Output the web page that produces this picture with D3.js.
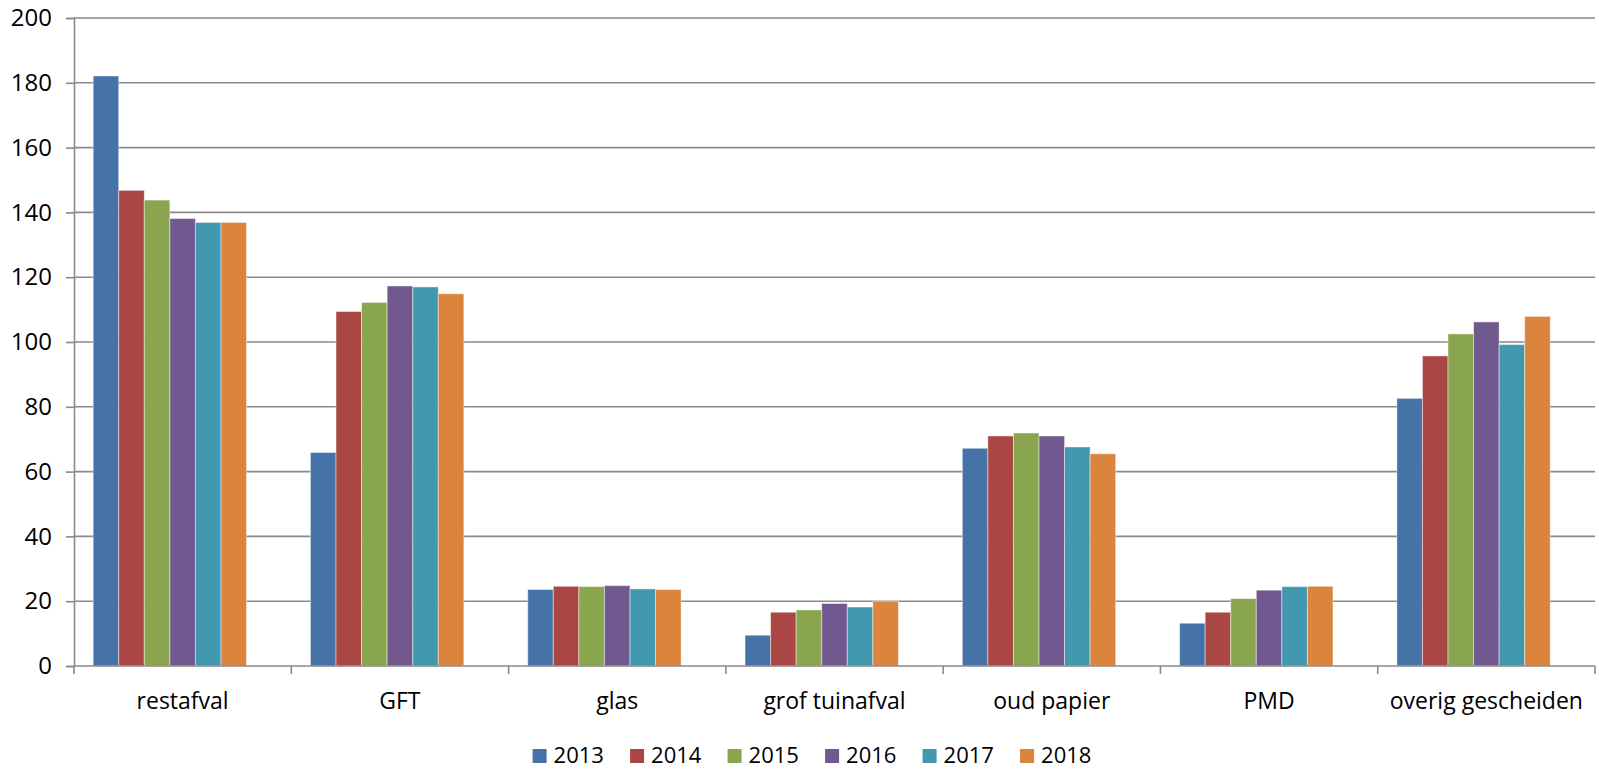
<!DOCTYPE html>
<html>
<head>
<meta charset="utf-8">
<script src="https://cdn.jsdelivr.net/npm/d3@7"></script>
<style>
  html, body { margin: 0; padding: 0; background: #ffffff; }
  svg { display: block; }
  text { font-family: "Open Sans", "Noto Sans", sans-serif; fill: #000; }
</style>
</head>
<body>
<svg id="chart" width="1599" height="770"></svg>
<script>
// ---- data ----
const categories = ["restafval", "GFT", "glas", "grof tuinafval", "oud papier", "PMD", "overig gescheiden"];
const years = ["2013", "2014", "2015", "2016", "2017", "2018"];
const v2013 = [182.1, 65.9, 23.6, 9.5, 67.2, 13.2, 82.6];
const v2014 = [146.8, 109.4, 24.6, 16.6, 71.0, 16.6, 95.7];
const v2015 = [143.8, 112.2, 24.5, 17.3, 71.9, 20.8, 102.5];
const v2016 = [138.1, 117.3, 24.8, 19.3, 71.0, 23.4, 106.2];
const v2017 = [136.9, 117.0, 23.8, 18.2, 67.6, 24.5, 99.2];
const v2018 = [136.9, 114.9, 23.6, 20.0, 65.5, 24.6, 107.9];
const seriesValues = [v2013, v2014, v2015, v2016, v2017, v2018];
const yTicks = [0, 20, 40, 60, 80, 100, 120, 140, 160, 180, 200];
const colors = ["#4572A7", "#AA4643", "#89A54E", "#71588F", "#4198AF", "#DB843D"];

// ---- layout ----
const svg = d3.select("#chart");
const plot = { left: 74, right: 1595, top: 18, bottom: 666 };
const gridColor = "#8a8a8a";

const x0 = d3.scaleBand().domain(categories).range([plot.left, plot.right]).padding(0);
// 7 slots (one empty, as in the original spreadsheet chart), gap width 150%
const slots = years.concat([""]);
const x1 = d3.scaleBand().domain(slots).range([0, x0.bandwidth()]).paddingInner(0).paddingOuter(0.75);
const y = d3.scaleLinear().domain([0, 200]).range([plot.bottom, plot.top]);

// gridlines
svg.append("g")
  .selectAll("line")
  .data(yTicks.filter(t => t !== 0))
  .join("line")
  .attr("x1", plot.left).attr("x2", plot.right)
  .attr("y1", d => y(d)).attr("y2", d => y(d))
  .attr("stroke", gridColor).attr("stroke-width", 1.6);

// bars
const groups = svg.append("g")
  .selectAll("g")
  .data(years)
  .join("g")
  .attr("fill", (d, i) => colors[i]);

groups.selectAll("rect")
  .data((yr, i) => categories.map((c, j) => ({ cat: c, year: yr, value: seriesValues[i][j] })))
  .join("rect")
  .attr("x", d => x0(d.cat) + x1(d.year))
  .attr("width", x1.bandwidth())
  .attr("y", d => y(d.value))
  .attr("height", d => y(0) - y(d.value))
  .attr("stroke", "rgba(255,255,255,0.45)")
  .attr("stroke-width", 1);

// y axis
const yAxis = svg.append("g")
  .attr("transform", `translate(${plot.left},0)`)
  .call(d3.axisLeft(y).tickValues(yTicks).tickSize(8).tickPadding(14).tickFormat(d3.format("d")));
yAxis.select(".domain").attr("stroke", gridColor).attr("stroke-width", 1.6);
yAxis.selectAll(".tick line").attr("stroke", gridColor).attr("stroke-width", 1.6);
yAxis.selectAll(".tick text")
  .style("font-family", "'Open Sans', sans-serif")
  .style("font-size", "24px")
  .attr("fill", "#000");

// x axis: tick marks at category boundaries
const boundaries = categories.map(c => x0(c)).concat([plot.right]);
svg.append("line")
  .attr("x1", plot.left).attr("x2", plot.right)
  .attr("y1", y(0)).attr("y2", y(0))
  .attr("stroke", gridColor).attr("stroke-width", 1.6);
svg.append("g")
  .selectAll("line")
  .data(boundaries)
  .join("line")
  .attr("x1", d => d).attr("x2", d => d)
  .attr("y1", y(0)).attr("y2", y(0) + 8)
  .attr("stroke", gridColor).attr("stroke-width", 1.6);

svg.append("g")
  .selectAll("text")
  .data(categories)
  .join("text")
  .attr("x", d => x0(d) + x0.bandwidth() / 2)
  .attr("y", 709)
  .attr("text-anchor", "middle")
  .style("font-size", "23px")
  .text(d => d);

// legend
const legendStep = 97.5;
const legendCenter = 812;
const legend = svg.append("g");
const items = legend.selectAll("g")
  .data(years)
  .join("g");
items.append("rect")
  .attr("width", 14).attr("height", 14)
  .attr("y", 749)
  .attr("fill", (d, i) => colors[i]);
items.append("text")
  .attr("x", 21)
  .attr("y", 763)
  .style("font-size", "22px")
  .text(d => d);
const lastW = items.filter((d, i) => i === years.length - 1).select("text").node().getComputedTextLength();
const totalW = (years.length - 1) * legendStep + 21 + lastW;
const legendLeft = legendCenter - totalW / 2;
items.attr("transform", (d, i) => `translate(${legendLeft + i * legendStep},0)`);
</script>
</body>
</html>
